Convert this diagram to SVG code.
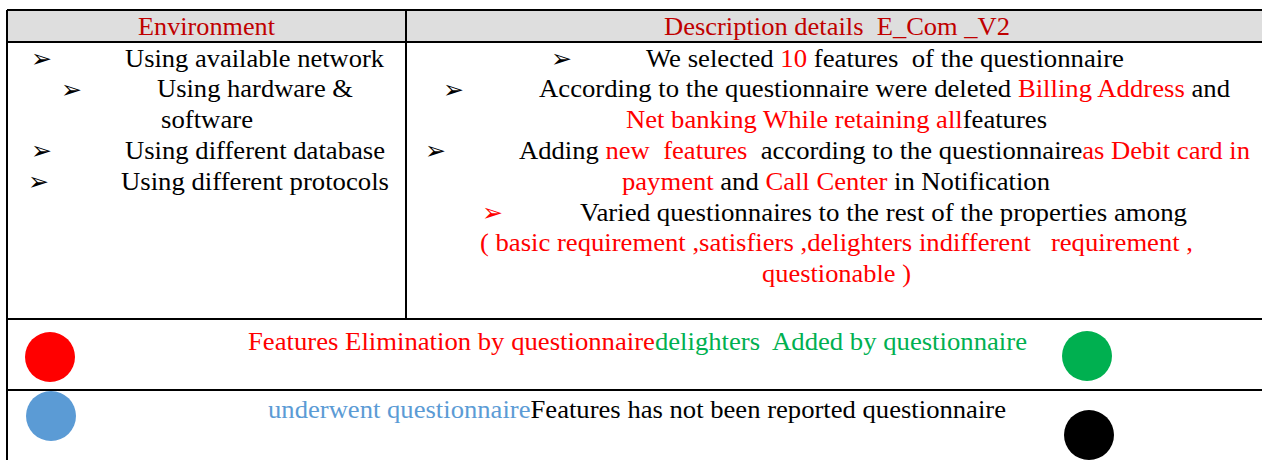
<svg xmlns="http://www.w3.org/2000/svg" width="1262" height="460" viewBox="0 0 1262 460">
<style>
text{font-family:'Liberation Serif','Times New Roman',serif;font-size:26px;fill:#000;white-space:pre}
.hd{fill:#c00000}
.r{fill:#ff0000}
.g{fill:#00b050}
.b{fill:#5b9bd5}
text.ar{font-family:'DejaVu Sans',sans-serif;font-size:25px}
.ln{stroke:#000;stroke-width:2;fill:none}
</style>
<g id="table">
<rect x="7" y="10" width="1262" height="32" fill="#dedede"/>
<path class="ln" d="M7 10H1262M7 42H1262M7 319H1262M7 390H1262M7 10V460M406 10V319"/>
</g>
<g id="header">
<text class="hd" x="138" y="35" textLength="137" lengthAdjust="spacingAndGlyphs">Environment</text>
<text class="hd" x="664" y="35" textLength="346" lengthAdjust="spacingAndGlyphs">Description details  E_Com _V2</text>
</g>
<g id="environment">
<text class="ar" x="31" y="67">➢</text>
<text x="125" y="67" textLength="259" lengthAdjust="spacingAndGlyphs">Using available network</text>
<text class="ar" x="61" y="98">➢</text>
<text x="157" y="97" textLength="196" lengthAdjust="spacingAndGlyphs">Using hardware &amp;</text>
<text x="161" y="128" textLength="92" lengthAdjust="spacingAndGlyphs">software</text>
<text class="ar" x="31" y="159">➢</text>
<text x="125" y="159" textLength="260" lengthAdjust="spacingAndGlyphs">Using different database</text>
<text class="ar" x="28" y="190">➢</text>
<text x="121" y="190" textLength="268" lengthAdjust="spacingAndGlyphs">Using different protocols</text>
</g>
<g id="description">
<text class="ar" x="551" y="67">➢</text>
<text x="646" y="67" textLength="478" lengthAdjust="spacingAndGlyphs">We selected <tspan class="r">10</tspan> features  of the questionnaire</text>
<text class="ar" x="443" y="98">➢</text>
<text x="539" y="97" textLength="691" lengthAdjust="spacingAndGlyphs">According to the questionnaire were deleted <tspan class="r">Billing Address</tspan> and</text>
<text x="626" y="128" textLength="421" lengthAdjust="spacingAndGlyphs"><tspan class="r">Net banking While retaining all</tspan>features</text>
<text class="ar" x="425" y="159">➢</text>
<text x="519" y="159" textLength="731" lengthAdjust="spacingAndGlyphs">Adding <tspan class="r">new  features</tspan>  according to the questionnaire<tspan class="r">as Debit card in</tspan></text>
<text x="622" y="190" textLength="428" lengthAdjust="spacingAndGlyphs"><tspan class="r">payment</tspan> and <tspan class="r">Call Center</tspan> in Notification</text>
<text class="ar r" x="482" y="221">➢</text>
<text x="580" y="221" textLength="607" lengthAdjust="spacingAndGlyphs">Varied questionnaires to the rest of the properties among</text>
<text class="r" x="480" y="251" textLength="713" lengthAdjust="spacingAndGlyphs">( basic requirement ,satisfiers ,delighters indifferent   requirement ,</text>
<text class="r" x="762" y="282" textLength="149" lengthAdjust="spacingAndGlyphs">questionable )</text>
</g>
<g id="legend">
<circle id="dot-red" cx="50" cy="357" r="25" fill="#ff0000"/>
<circle id="dot-green" cx="1087" cy="356" r="25" fill="#00b050"/>
<circle id="dot-blue" cx="51" cy="416" r="25" fill="#5b9bd5"/>
<circle id="dot-black" cx="1089" cy="435" r="25" fill="#000"/>
<text x="248" y="350" textLength="779" lengthAdjust="spacingAndGlyphs"><tspan class="r">Features Elimination by questionnaire</tspan><tspan class="g">delighters  Added by questionnaire</tspan></text>
<text x="268" y="418" textLength="738" lengthAdjust="spacingAndGlyphs"><tspan class="b">underwent questionnaire</tspan>Features has not been reported questionnaire</text>
</g>
</svg>
